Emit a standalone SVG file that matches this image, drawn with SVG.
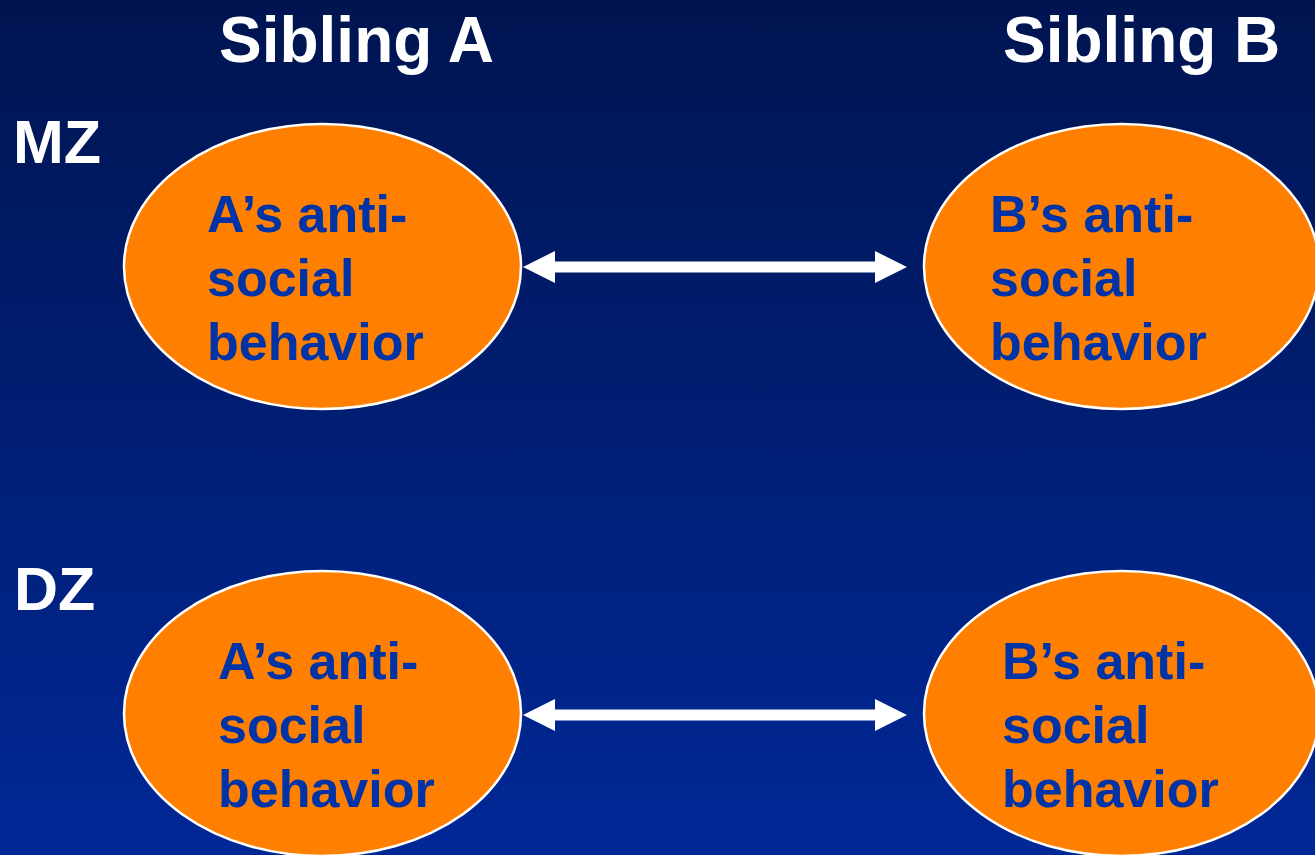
<svg xmlns="http://www.w3.org/2000/svg" width="1315" height="855" viewBox="0 0 1315 855">
  <defs>
    <linearGradient id="bg" x1="0" y1="0" x2="0" y2="1">
      <stop offset="0" stop-color="#001450"/>
      <stop offset="1" stop-color="#002897"/>
    </linearGradient>
    <!-- double-headed arrow shape, centred on y=0 -->
    <path id="dbl-arrow" d="M0,0 L32,-16 L32,-5.5 L352,-5.5 L352,-16 L384,0 L352,16 L352,5.5 L32,5.5 L32,16 Z"/>
  </defs>
  <style>
    .title { font-family: "Liberation Sans", Arial, sans-serif; font-weight: bold; fill: #ffffff; }
    .node ellipse { fill: #ff8000; stroke: #ffffff; stroke-width: 2.5; }
    .node text { font-family: "Liberation Sans", Arial, sans-serif; font-weight: bold; font-size: 52px; fill: #0033a6; }
    .link { fill: #ffffff; }
  </style>

  <rect width="1315" height="855" fill="url(#bg)"/>

  <!-- column and row headings -->
  <text class="title" x="219" y="62" font-size="64">Sibling A</text>
  <text class="title" x="1003" y="62" font-size="64">Sibling B</text>
  <text class="title" x="13" y="163" font-size="61">MZ</text>
  <text class="title" x="14" y="610" font-size="61">DZ</text>

  <!-- correlations between siblings -->
  <g id="connectors">
    <use class="link" href="#dbl-arrow" x="523" y="267"/>
    <use class="link" href="#dbl-arrow" x="523" y="715"/>
  </g>

  <g id="mz-a" class="node">
    <ellipse cx="322.5" cy="266.5" rx="198.5" ry="142.5"/>
    <text x="207" y="232">A’s anti-</text>
    <text x="207" y="296">social</text>
    <text x="207" y="360">behavior</text>
  </g>
  <g id="mz-b" class="node">
    <ellipse cx="1121.5" cy="266.5" rx="197.5" ry="142.5"/>
    <text x="990" y="232">B’s anti-</text>
    <text x="990" y="296">social</text>
    <text x="990" y="360">behavior</text>
  </g>
  <g id="dz-a" class="node">
    <ellipse cx="322.5" cy="713.5" rx="198.5" ry="142.5"/>
    <text x="218" y="679">A’s anti-</text>
    <text x="218" y="743">social</text>
    <text x="218" y="807">behavior</text>
  </g>
  <g id="dz-b" class="node">
    <ellipse cx="1121.5" cy="713.5" rx="197.5" ry="142.5"/>
    <text x="1002" y="679">B’s anti-</text>
    <text x="1002" y="743">social</text>
    <text x="1002" y="807">behavior</text>
  </g>
</svg>
